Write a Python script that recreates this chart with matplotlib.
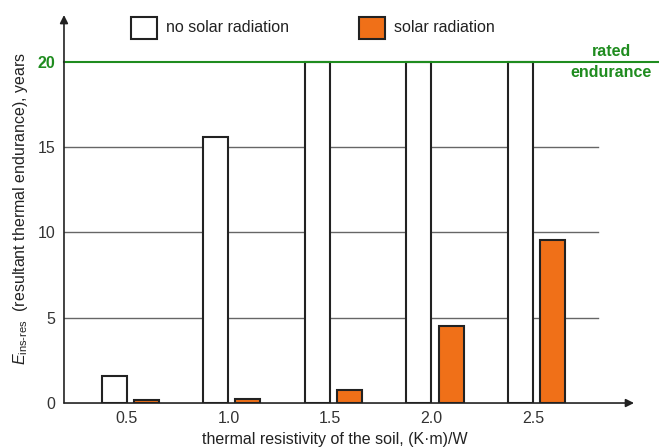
import matplotlib.pyplot as plt
from matplotlib.patches import Rectangle

plt.rcParams['font.family'] = ['Liberation Sans', 'DejaVu Sans']
plt.rcParams['mathtext.fontset'] = 'custom'
plt.rcParams['mathtext.rm'] = 'Liberation Sans'
plt.rcParams['mathtext.it'] = 'Liberation Sans:italic'

# resistivity values on the x axis, (K*m)/W
resistivity = [0.5, 1.0, 1.5, 2.0, 2.5]
tick_labels = ["0.5", "1.0", "1.5", "2.0", "2.5"]
no_solar = [1.6, 15.6, 20, 20, 20]
solar = [0.2, 0.25, 0.76, 4.5, 9.55]
rated = 20

green = "#1f8c1f"
orange = "#f07018"
edge = "#222222"
fs = 11.5

fig = plt.figure(figsize=(6.59, 4.47), dpi=100)
ax = fig.add_axes([0.0971, 0.0984, 0.865, 0.868])
ax.set_xlim(0.19, 2.997)
ax.set_ylim(0, 22.75)

# horizontal grid lines, stopping short of the arrow
for y in [5, 10, 15]:
    ax.plot([0.19, 2.82], [y, y], color="#666666", lw=1.0, zorder=1)

w = 0.123
ax.bar([r - 0.062 for r in resistivity], no_solar, width=w, color="white",
       edgecolor=edge, linewidth=1.5, zorder=2)
ax.bar([r + 0.096 for r in resistivity], solar, width=w, color=orange,
       edgecolor=edge, linewidth=1.5, zorder=2)

# rated endurance line runs to the figure edge
ax.plot([0.19, 3.13], [rated, rated], color=green, lw=1.5, zorder=3,
        clip_on=False)
ax.text(2.885, rated, "rated\nendurance", color=green, fontsize=fs,
        fontweight="bold", ha="center", va="center", linespacing=1.45,
        clip_on=False)

for s in ax.spines.values():
    s.set_visible(False)
ax.annotate("", xy=(0, 1.0), xytext=(0, 0), xycoords="axes fraction",
            arrowprops=dict(arrowstyle="-|>", color="#222222", lw=1.2,
                            mutation_scale=12, shrinkA=0, shrinkB=0))
ax.annotate("", xy=(1.0, 0), xytext=(0, 0), xycoords="axes fraction",
            arrowprops=dict(arrowstyle="-|>", color="#222222", lw=1.2,
                            mutation_scale=12, shrinkA=0, shrinkB=0))

ax.set_xticks(resistivity)
ax.set_xticklabels(tick_labels)
ax.set_yticks([0, 5, 10, 15, 20])
ax.set_yticklabels(["0", "5", "10", "15", "20"])
ax.tick_params(axis="both", length=0, labelsize=fs, labelcolor="#333333")
ax.tick_params(axis="x", pad=6)
ax.tick_params(axis="y", pad=6)
lbl20 = ax.get_yticklabels()[-1]
lbl20.set_color(green)
lbl20.set_fontweight("bold")

fig.text(335 / 659, 1 - 432 / 447, "thermal resistivity of the soil, (K\u00b7m)/W",
         fontsize=fs, color="#222222", ha="center", va="top")
ax.set_ylabel(r"$E_{\mathrm{ins\text{-}res}}$  (resultant thermal endurance), years",
              fontsize=fs, color="#222222")
ax.yaxis.set_label_coords(-(64 - 30) / 570, 0.5)

# legend drawn by hand above the plot
fig.patches.append(Rectangle((131 / 659, 1 - 39 / 447), 26 / 659, 22 / 447,
                             transform=fig.transFigure, facecolor="white",
                             edgecolor=edge, lw=1.5))
fig.text(166 / 659, 1 - 28 / 447, "no solar radiation", fontsize=fs,
         color="#222222", va="center")
fig.patches.append(Rectangle((359 / 659, 1 - 39 / 447), 26 / 659, 22 / 447,
                             transform=fig.transFigure, facecolor=orange,
                             edgecolor=edge, lw=1.5))
fig.text(394 / 659, 1 - 28 / 447, "solar radiation", fontsize=fs,
         color="#222222", va="center")

fig.savefig("out.png", dpi=100)
